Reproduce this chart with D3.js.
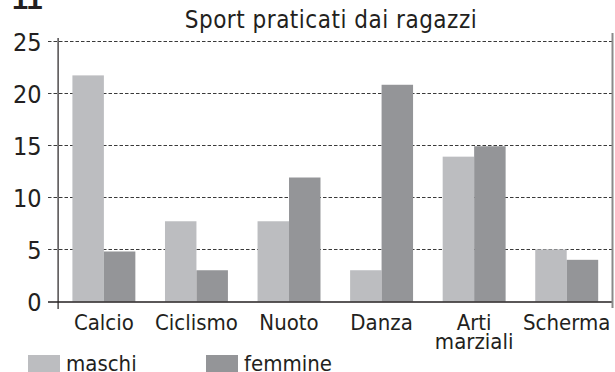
<!DOCTYPE html>
<html>
<head>
<meta charset="utf-8">
<script src="https://cdn.jsdelivr.net/npm/d3@7/dist/d3.min.js"></script>
<style>
  html, body { margin: 0; padding: 0; background: #fff; }
  svg { display: block; }
  text { font-family: "DejaVu Sans Condensed", "DejaVu Sans", sans-serif; font-stretch: condensed; fill: #231f20; }
</style>
</head>
<body>
<svg id="chart" width="615" height="372"></svg>
<script>
// Sport praticati dai ragazzi, in percentuale
const categories = ["Calcio", "Ciclismo", "Nuoto", "Danza", "Arti marziali", "Scherma"];
const maschi     = [21.7, 7.7, 7.7, 3.0, 13.9, 5.0];
const femmine    = [4.8, 3.0, 11.9, 20.8, 14.9, 4.0];
const seriesNames = ["maschi", "femmine"];
const yTicks = [0, 5, 10, 15, 20, 25];
const title = "Sport praticati dai ragazzi";
const pageNumber = "11";

const colors = { maschi: "#bcbdc0", femmine: "#949598" };

const svg = d3.select("#chart");
const plot = { left: 57.6, right: 613, top: 41, bottom: 301.5 };

const x = d3.scaleBand()
  .domain(categories)
  .range([plot.left, plot.right])
  .paddingInner(0.32)
  .paddingOuter(0.16);

const xs = d3.scaleBand()
  .domain(seriesNames)
  .range([0, x.bandwidth()]);

const y = d3.scaleLinear()
  .domain([0, 25])
  .range([plot.bottom, plot.top]);

// page number, partly cut by the top edge
svg.append("text")
  .attr("x", 12)
  .attr("y", 9)
  .style("font-family", "'Liberation Sans', Arial, sans-serif")
  .style("font-stretch", "normal")
  .style("font-weight", "bold")
  .style("font-size", "29px")
  .text(pageNumber);

// title
svg.append("text")
  .attr("x", 331)
  .attr("y", 28)
  .attr("text-anchor", "middle")
  .style("font-size", "24px")
  .style("letter-spacing", "0.5px")
  .text(title);

// dashed gridlines
svg.append("g")
  .selectAll("line")
  .data(yTicks.filter(d => d > 0))
  .join("line")
  .attr("x1", 48)
  .attr("x2", plot.right)
  .attr("y1", d => Math.round(y(d)) + 0.5)
  .attr("y2", d => Math.round(y(d)) + 0.5)
  .attr("stroke", "#3a3a3a")
  .attr("stroke-width", 1)
  .attr("stroke-dasharray", "3.5,2");

// y tick labels
const yAxis = d3.axisLeft(y).tickValues(yTicks).tickSize(0).tickPadding(16);
const gy = svg.append("g")
  .attr("transform", `translate(${plot.left},0)`)
  .call(yAxis);
gy.select(".domain").remove();
gy.selectAll("text")
  .style("font-size", "25px")
  .style("font-family", "'DejaVu Sans Condensed', 'DejaVu Sans', sans-serif")
  .attr("fill", "#231f20")
  .attr("dy", "0.36em");

// bars
const groups = svg.append("g")
  .selectAll("g")
  .data(categories.map((c, i) => ({ c, values: [
    { key: "maschi", v: maschi[i] },
    { key: "femmine", v: femmine[i] }
  ] })))
  .join("g")
  .attr("transform", d => `translate(${x(d.c)},0)`);

groups.selectAll("rect")
  .data(d => d.values)
  .join("rect")
  .attr("x", d => xs(d.key))
  .attr("width", xs.bandwidth())
  .attr("y", d => y(d.v))
  .attr("height", d => y(0) - y(d.v))
  .attr("fill", d => colors[d.key]);

// baseline and axes frame
svg.append("line")
  .attr("x1", 48).attr("x2", plot.right)
  .attr("y1", y(0) + 0.5).attr("y2", y(0) + 0.5)
  .attr("stroke", "#231f20").attr("stroke-width", 1.3);

svg.append("line")
  .attr("x1", plot.left + 0.5).attr("x2", plot.left + 0.5)
  .attr("y1", 38).attr("y2", 309)
  .attr("stroke", "#231f20").attr("stroke-width", 1.2);

svg.append("line")
  .attr("x1", 612.5).attr("x2", 612.5)
  .attr("y1", 33).attr("y2", 308)
  .attr("stroke", "#8a8a8a").attr("stroke-width", 2);

// category labels, wrapped on spaces
const xl = svg.append("g")
  .selectAll("text")
  .data(categories)
  .join("text")
  .attr("x", d => x(d) + x.bandwidth() / 2)
  .attr("y", 330)
  .attr("text-anchor", "middle")
  .style("font-size", "22px");
xl.each(function(d) {
  const words = d.split(" ");
  const t = d3.select(this);
  words.forEach((w, i) => {
    t.append("tspan")
      .attr("x", x(d) + x.bandwidth() / 2)
      .attr("dy", i === 0 ? 0 : "0.88em")
      .text(w);
  });
});

// legend
const legendX = [28, 206];
const lg = svg.append("g")
  .selectAll("g")
  .data(seriesNames)
  .join("g")
  .attr("transform", (d, i) => `translate(${legendX[i]},355)`);
lg.append("rect")
  .attr("width", 32)
  .attr("height", 17)
  .attr("fill", d => colors[d]);
lg.append("text")
  .attr("x", 38)
  .attr("y", 16)
  .style("font-size", "22px")
  .text(d => d);
</script>
</body>
</html>
